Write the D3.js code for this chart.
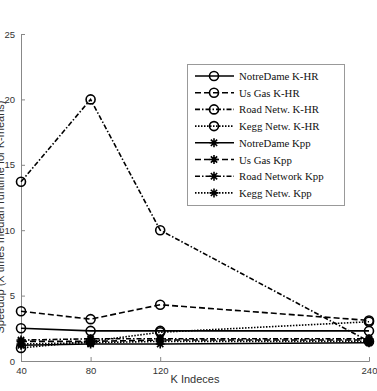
<!DOCTYPE html>
<html>
<head>
<meta charset="utf-8">
<script src="https://cdnjs.cloudflare.com/ajax/libs/d3/7.8.5/d3.min.js"></script>
<style>
body { margin: 0; background: #fff; }
svg { display: block; }
</style>
</head>
<body>
<svg id="chart" width="377" height="391"></svg>
<script>
// data
var kValues = [40, 80, 120, 240];
var yTicks = [0, 5, 10, 15, 20, 25];

var seriesNames = [
    "NotreDame K-HR", "Us Gas K-HR", "Road Netw. K-HR", "Kegg Netw. K-HR",
    "NotreDame Kpp", "Us Gas Kpp", "Road Network Kpp", "Kegg Netw. Kpp"
];
var notreDameKHR = [2.5, 2.3, 2.3, 2.3];
var usGasKHR = [3.8, 3.2, 4.3, 3.1];
var roadKHR = [13.7, 20, 10, 1.5];
var keggKHR = [1.0, 1.5, 2.2, 3.0];
var notreDameKpp = [1.2, 1.3, 1.3, 1.4];
var usGasKpp = [1.5, 1.5, 1.6, 1.6];
var roadKpp = [1.6, 1.7, 1.7, 1.7];
var keggKpp = [1.3, 1.4, 1.5, 1.5];

var seriesValues = [notreDameKHR, usGasKHR, roadKHR, keggKHR,
                    notreDameKpp, usGasKpp, roadKpp, keggKpp];

var dashes = ["none", "6,3", "5,2,1.5,2", "1.5,1.5"];

var svg = d3.select("#chart");

var x = d3.scaleLinear().domain([40, 240]).range([21, 369]);
var y = d3.scaleLinear().domain([0, 25]).range([361, 34]);

// axes (inward ticks, matlab style)
var yAxis = svg.append("g")
    .attr("transform", "translate(21,0)")
    .call(d3.axisLeft(y).tickValues(yTicks).tickSize(-4).tickPadding(6));
var xAxis = svg.append("g")
    .attr("transform", "translate(0,361)")
    .call(d3.axisBottom(x).tickValues(kValues).tickSize(-4).tickPadding(6));

[yAxis, xAxis].forEach(function(a) {
    a.select(".domain").attr("stroke", "#888");
    a.selectAll(".tick line").attr("stroke", "#888");
    a.selectAll(".tick text")
        .attr("fill", "#333")
        .style("font-family", "Liberation Sans, Arial, sans-serif")
        .style("font-size", "9.5px");
});

svg.append("text")
    .attr("x", 195).attr("y", 383)
    .attr("text-anchor", "middle")
    .style("font-family", "Liberation Sans, Arial, sans-serif")
    .style("font-size", "11px")
    .attr("fill", "#333")
    .text("K Indeces");

// the original figure crops this label at the left edge
svg.append("text")
    .attr("transform", "translate(4,217) rotate(-90)")
    .attr("text-anchor", "middle")
    .style("font-family", "Liberation Sans, Arial, sans-serif")
    .style("font-size", "11px")
    .attr("fill", "#333")
    .text("Speedup (X times median runtime for K-means)");

function starPath(r) {
    var d = 0.7 * r;
    return "M" + (-r) + ",0L" + r + ",0M0," + (-r) + "L0," + r +
        "M" + (-d) + "," + (-d) + "L" + d + "," + d +
        "M" + (-d) + "," + d + "L" + d + "," + (-d);
}

function drawMarker(g, cx, cy, isCircle) {
    if (isCircle) {
        g.append("circle").attr("cx", cx).attr("cy", cy).attr("r", 4.5)
            .attr("fill", "none").attr("stroke", "#000").attr("stroke-width", 1.6);
    } else {
        g.append("path").attr("transform", "translate(" + cx + "," + cy + ")")
            .attr("d", starPath(4.5))
            .attr("fill", "none").attr("stroke", "#000").attr("stroke-width", 1.6);
    }
}

var line = d3.line()
    .x(function(d, i) { return x(kValues[i]); })
    .y(function(d) { return y(d); });

var plot = svg.append("g");
// draw Kpp first then K-HR on top
[4, 5, 6, 7, 0, 1, 2, 3].forEach(function(si) {
    var vals = seriesValues[si];
    plot.append("path")
        .attr("d", line(vals))
        .attr("fill", "none")
        .attr("stroke", "#000")
        .attr("stroke-width", 1.6)
        .attr("stroke-dasharray", dashes[si % 4]);
    vals.forEach(function(v, i) {
        drawMarker(plot, x(kValues[i]), y(v), si < 4);
    });
});

// legend
var legend = svg.append("g");
legend.append("rect")
    .attr("x", 187.5).attr("y", 64.5).attr("width", 157).attr("height", 141)
    .attr("fill", "#fff").attr("stroke", "#999").attr("stroke-width", 1);

seriesNames.forEach(function(name, i) {
    var ly = 76 + i * 16.7;
    legend.append("line")
        .attr("x1", 195).attr("x2", 234).attr("y1", ly).attr("y2", ly)
        .attr("stroke", "#000").attr("stroke-width", 1.6)
        .attr("stroke-dasharray", dashes[i % 4]);
    drawMarker(legend, 214, ly, i < 4);
    legend.append("text")
        .attr("x", 239).attr("y", ly + 4)
        .style("font-family", "Liberation Serif, DejaVu Serif, serif")
        .style("font-size", "10.8px")
        .attr("fill", "#111")
        .text(name);
});
</script>
</body>
</html>
